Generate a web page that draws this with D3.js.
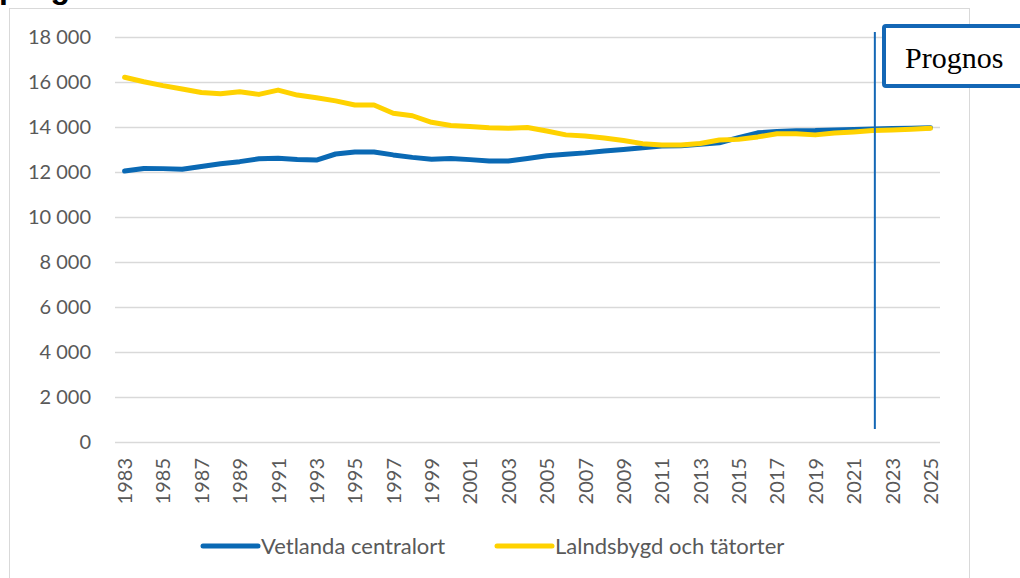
<!DOCTYPE html>
<html lang="sv">
<head>
<meta charset="UTF-8">
<title>Befolkningsprognos Vetlanda</title>
<style>
  body { margin: 0; background: #fff; }
  svg { display: block; }
  .tick text { font-family: Lato, 'Open Sans', sans-serif; fill: #595959; }
</style>
</head>
<body>
<svg width="1020" height="578"></svg>
<script src="https://d3js.org/d3.v7.min.js"></script>
<script>
// data
const years = d3.range(1983, 2026);
const vetlanda = [
  12040, 12160, 12150, 12120, 12240, 12370, 12460, 12590, 12610, 12560,
  12530, 12800, 12890, 12890, 12760, 12650, 12570, 12600, 12550, 12490,
  12490, 12600, 12720, 12790, 12850, 12930, 13000, 13080, 13150, 13170,
  13230, 13300, 13530, 13740, 13800, 13830, 13840, 13870, 13890, 13910,
  13930, 13950, 13970
];
const landsbygd = [
  16210, 16010, 15840, 15690, 15530, 15480, 15570, 15450, 15640, 15420,
  15300, 15160, 14980, 14980, 14610, 14500, 14210, 14070, 14020, 13970,
  13940, 13980, 13820, 13650, 13600, 13510, 13400, 13260, 13200, 13200,
  13270, 13420, 13450, 13560, 13700, 13700, 13650, 13730, 13780, 13840,
  13870, 13900, 13940
];
const seriesNames = ["Vetlanda centralort", "Lalndsbygd och tätorter"];
const seriesColors = ["#0a69b4", "#ffd200"];
const yTicks = d3.range(0, 18001, 2000);
const xTickYears = years.filter(y => (y - 1983) % 2 === 0);
const prognosYear = 2022;

const svg = d3.select("svg");

const sv = d3.formatLocale({ decimal: ",", thousands: "\u00a0", grouping: [3], currency: ["", " kr"] });
const fmt = sv.format(",");

const x = d3.scalePoint().domain(years).range([115, 940]).padding(0.5);
const y = d3.scaleLinear().domain([0, 18000]).range([442, 37]);

// cut-off heading above the chart frame
svg.append("text")
  .attr("x", -1).attr("y", -2)
  .attr("font-family", "'Liberation Sans', Arial, sans-serif")
  .attr("font-weight", "bold")
  .attr("font-size", 32)
  .attr("fill", "#000")
  .text("prognos");

// chart frame
svg.append("rect")
  .attr("x", 9.5).attr("y", 8.5)
  .attr("width", 960).attr("height", 600)
  .attr("fill", "#fff")
  .attr("stroke", "#d9d9d9");

// gridlines
svg.append("g")
  .selectAll("line")
  .data(yTicks)
  .join("line")
  .attr("x1", 115).attr("x2", 940)
  .attr("y1", d => Math.round(y(d)) + 0.5)
  .attr("y2", d => Math.round(y(d)) + 0.5)
  .attr("stroke", "#d9d9d9")
  .attr("stroke-width", 1.5);

// y axis
const yAxis = svg.append("g")
  .attr("transform", "translate(115,0)")
  .call(d3.axisLeft(y).tickValues(yTicks).tickFormat(fmt).tickSize(0).tickPadding(24));
yAxis.select(".domain").remove();
yAxis.selectAll("text").attr("font-size", 20);

// x axis
const xAxis = svg.append("g")
  .attr("transform", `translate(0,${y(0)})`)
  .call(d3.axisBottom(x).tickValues(xTickYears).tickSize(0));
xAxis.select(".domain").remove();
xAxis.selectAll("text")
  .attr("font-size", 20)
  .attr("text-anchor", "end")
  .attr("transform", "rotate(-90)")
  .attr("x", -16)
  .attr("y", 0)
  .attr("dy", "0.35em");

// series lines
const line = d3.line()
  .x((d, i) => x(years[i]))
  .y(d => y(d));

[vetlanda, landsbygd].forEach((vals, k) => {
  svg.append("path")
    .datum(vals)
    .attr("fill", "none")
    .attr("stroke", seriesColors[k])
    .attr("stroke-width", 5)
    .attr("stroke-linejoin", "round")
    .attr("stroke-linecap", "round")
    .attr("d", line);
});

// forecast marker
const px = x(prognosYear) + 2;
svg.append("line")
  .attr("x1", px).attr("x2", px)
  .attr("y1", 32).attr("y2", 429)
  .attr("stroke", "#1467b5")
  .attr("stroke-width", 2);

svg.append("rect")
  .attr("x", 884).attr("y", 26)
  .attr("width", 200).attr("height", 60)
  .attr("rx", 2)
  .attr("fill", "#fff")
  .attr("stroke", "#1467b5")
  .attr("stroke-width", 4);

svg.append("text")
  .attr("x", 905).attr("y", 68)
  .attr("font-family", "'Liberation Serif', 'Times New Roman', serif")
  .attr("font-size", 30)
  .attr("fill", "#000")
  .text("Prognos");

// legend
const legendX = [203, 497];
const legend = svg.append("g");
seriesNames.forEach((name, k) => {
  legend.append("line")
    .attr("x1", legendX[k]).attr("x2", legendX[k] + 55)
    .attr("y1", 546).attr("y2", 546)
    .attr("stroke", seriesColors[k])
    .attr("stroke-width", 5)
    .attr("stroke-linecap", "round");
  legend.append("text")
    .attr("x", legendX[k] + 58).attr("y", 546)
    .attr("dy", "0.35em")
    .attr("font-family", "Lato, 'Open Sans', sans-serif")
    .attr("font-size", 22)
    .attr("fill", "#595959")
    .text(name);
});
</script>
</body>
</html>
